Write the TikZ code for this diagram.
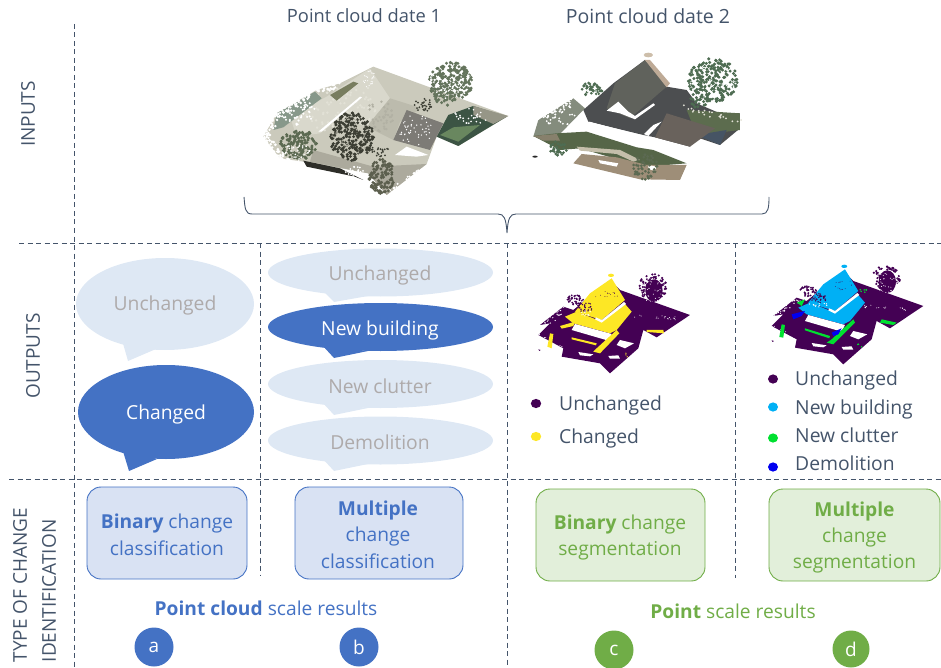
\documentclass[tikz,border=0pt]{standalone}
\usepackage{fontspec}
\setmainfont{Open Sans}
\definecolor{ink}{HTML}{44546A}
\definecolor{bl}{HTML}{4472C4}
\definecolor{bubl}{HTML}{DEE8F4}
\definecolor{boxb}{HTML}{D9E2F3}
\definecolor{gr}{HTML}{70AD47}
\definecolor{boxg}{HTML}{E2EFDA}
\definecolor{gtxt}{HTML}{AEAAAA}
\definecolor{purp}{HTML}{440154}
\definecolor{yel}{HTML}{FDE725}
\definecolor{cya}{HTML}{00B0F5}
\definecolor{grn}{HTML}{00E030}
\definecolor{blu}{HTML}{0000F0}
\definecolor{treeA}{RGB}{100,116,92}
\definecolor{treeB}{RGB}{60,62,52}
\definecolor{treeC}{RGB}{92,106,82}
\definecolor{treeD}{RGB}{92,95,78}
\definecolor{treeE}{RGB}{78,108,82}
\definecolor{paleA}{RGB}{226,225,214}
\definecolor{paleB}{RGB}{178,177,164}
\newcommand{\fsz}[1]{\fontsize{#1}{#1}\selectfont}
% random dots inside an ellipse: cx cy rx ry n colour size
\newcommand{\speck}[7]{%
  \foreach \ii in {1,...,#5}{%
    \pgfmathsetmacro\aa{rnd*360}%
    \pgfmathsetmacro\rr{sqrt(rnd)}%
    \fill[color={#6}] ({#1+#3*\rr*cos(\aa)},{#2+#4*\rr*sin(\aa)}) circle[radius=#7];
  }}
% random dots along a segment: x1 y1 x2 y2 n spread colour size
\newcommand{\fray}[8]{%
  \foreach \ii in {1,...,#5}{%
    \pgfmathsetmacro\tt{rnd}%
    \pgfmathsetmacro\dx{(rnd-0.5)*#6}%
    \pgfmathsetmacro\dy{(rnd-0.5)*#6}%
    \fill[color={#7}] ({#1+(#3-#1)*\tt+\dx},{#2+(#4-#2)*\tt+\dy}) circle[radius=#8];
  }}
% the change-map cloud; #1 is the colour of the changed parts
\newcommand{\segcloud}[1]{%
  \fill[purp] (330,120)--(540,195)--(440,262)--(400,240)--(385,295)--(300,370)--(270,340)--(155,320)--(160,295)--(85,255)--(120,220)--(90,225)--(160,170)--(190,180)--(300,90)--cycle;
  \speck{195}{150}{25}{16}{40}{purp}{3}
  \fill[purp] (432,122) ellipse[x radius=26,y radius=34];
  \speck{428}{112}{42}{40}{90}{purp}{3.6}
  \speck{428}{120}{38}{36}{34}{white}{1.6}
  \fray{92}{225}{165}{172}{34}{22}{white}{2}
  \fray{360}{195}{500}{205}{18}{10}{white}{1.5}
  \fray{85}{255}{160}{295}{10}{12}{white}{1.6}
  \fill[#1] (305,85)--(345,150)--(275,210)--(195,185)--(240,130)--cycle;
  \fill[#1] (165,200)--(200,185)--(275,215)--(345,162)--(365,185)--(320,240)--(300,250)--(190,220)--cycle;
  \fill[#1] (303,76) ellipse[x radius=9,y radius=5];
  \fray{270}{130}{320}{135}{14}{30}{purp}{1.2}
  \fill[white] (275,210)--(342,156)--(348,162)--(275,218)--(255,208)--(258,202)--cycle;
  \speck{225}{172}{24}{14}{30}{purp}{2.4}
  \speck{225}{190}{30}{8}{12}{white}{2}
  \fill[white] (195,222)--(305,252)--(295,272)--(185,240)--cycle;
  \fill[white] (330,270)--(372,280)--(345,295)--(320,285)--cycle;
  \fill[white] (205,306)--(250,313)--(240,319)--(210,316)--cycle;
  \fill[white] (295,318)--(325,316)--(330,326)--(300,326)--cycle;
  \fill[purp] (85,298)--(92,300)--(88,303)--cycle;
}
\tikzset{
  sep/.style={draw=ink,line width=0.9pt,dash pattern=on 5pt off 3.5pt},
  txt/.style={text=ink,font=\fsz{19.3},inner sep=0pt},
  head/.style={text=ink,font=\fsz{18.3},inner sep=0pt},
  side/.style={text=ink,font=\fsz{19},inner sep=0pt,rotate=90},
  bubt/.style={text=gtxt,font=\fsz{19.3},inner sep=0pt},
  bubw/.style={text=white,font=\fsz{19.3},inner sep=0pt},
  boxblue/.style={draw=bl,line width=0.9pt,fill=boxb,rounded corners=14pt},
  boxgreen/.style={draw=gr,line width=0.9pt,fill=boxg,rounded corners=14pt},
  tblue/.style={text=bl,font=\fsz{19.2},inner sep=0pt,align=center},
  tgreen/.style={text=gr,font=\fsz{19.2},inner sep=0pt,align=center},
  letter/.style={text=white,font=\fsz{19},inner sep=0pt,circle},
  zoomed/.style={x=0.3333pt,y=-0.3333pt},
}
\begin{document}
\begin{tikzpicture}[x=1pt,y=-1pt]
\useasboundingbox (0,0) rectangle (941,668);
\pgfmathsetseed{4711}

% ------- separators
\draw[sep] (74,24)--(74,668);
\draw[sep] (19,243)--(941,243);
\draw[sep] (9,479)--(941,479);
\draw[sep] (260,243)--(260,576);
\draw[sep] (507,243)--(507,668);
\draw[sep] (735,243)--(735,578);

% ------- brace
\draw[ink,line width=0.9pt] (244,197) .. controls (245,208) and (245,214) .. (252,214) -- (498,214)
   .. controls (504,214) and (506,218) .. (507,233)
   .. controls (508,218) and (510,214) .. (516,214) -- (762,214)
   .. controls (768,214) and (769,208) .. (769,197);

% ------- titles
\node[head] (t1) at (364,16) {Point cloud date 1};
\node[head,font=\fsz{19.5}] (t2) at (648,16) {Point cloud date 2};

% ------- side labels
\node[side] (sInputs) at (28,114) {INPUTS};
\node[side] (sOutputs) at (33,356) {OUTPUTS};
\node[side,align=left] (sType) at (34.5,585) {TYPE OF CHANGE\\[10pt]IDENTIFICATION};

% ------- point cloud 1
\begin{scope}[shift={(240,40)},zoomed]
  \fill[color={rgb,255:red,203;green,202;blue,188}] (400,80)--(805,228)--(655,318)--(590,290)--(560,372)--(440,465)--(385,400)--(190,365)--(120,355)--(70,290)--(110,220)--(230,150)--(300,130)--cycle;
  \fill[color={rgb,255:red,217;green,216;blue,204}] (390,85)--(450,175)--(380,260)--(300,235)--(240,280)--(170,290)--(150,230)--(260,170)--cycle;
  \fill[color={rgb,255:red,188;green,187;blue,173}] (450,175)--(545,205)--(480,245)--(460,300)--(380,260)--cycle;
  \speck{300}{210}{110}{70}{70}{paleA}{4}
  \speck{420}{230}{50}{45}{40}{paleB}{4}
  \fill[color={rgb,255:red,135;green,152;blue,138}] (110,220)--(225,155)--(245,175)--(130,262)--(100,270)--cycle;
  \speck{170}{215}{55}{40}{60}{white}{3.4}
  \fray{70}{290}{110}{220}{45}{26}{white}{4}
  \fray{110}{220}{230}{150}{50}{26}{white}{4}
  \fray{70}{290}{120}{355}{30}{30}{white}{4.5}
  \fray{230}{150}{300}{130}{22}{22}{white}{4}
  \fill[color={rgb,255:red,120;green,125;blue,95}] (270,165)--(340,125)--(355,130)--(290,182)--cycle;
  \fill[color={rgb,255:red,60;green,84;blue,68}] (590,290)--(625,225)--(700,198)--(800,230)--(655,318)--cycle;
  \fill[color={rgb,255:red,105;green,135;blue,95}] (600,285)--(640,262)--(720,255)--(655,305)--cycle;
  \fill[color={rgb,255:red,150;green,150;blue,135}] (700,198)--(805,228)--(760,252)--(700,225)--cycle;
  \speck{690}{230}{55}{25}{26}{white}{2.8}
  \fill[color={rgb,255:red,125;green,123;blue,118}] (500,210)--(610,250)--(570,330)--(460,300)--cycle;
  \speck{530}{270}{55}{45}{45}{white}{2.2}
  \fill[white] (500,320)--(565,345)--(530,350)--(465,345)--cycle;
  \fill[color={rgb,255:red,172;green,170;blue,157}] (220,330)--(400,380)--(560,372)--(440,465)--(385,400)--(210,365)--cycle;
  \fill[color={rgb,255:red,45;green,45;blue,40}] (190,362)--(300,385)--(370,420)--(345,410)--(200,380)--cycle;
  \speck{350}{395}{35}{15}{20}{white}{3}
  \fray{120}{355}{190}{368}{14}{16}{white}{4}
  \fray{560}{372}{440}{465}{24}{18}{white}{3.5}
  \speck{632}{125}{68}{58}{210}{treeA}{5}
  \speck{620}{165}{40}{32}{30}{treeA}{5}
  \speck{632}{125}{62}{52}{40}{white}{2.8}
  \speck{550}{195}{28}{20}{30}{treeB}{3}
  \speck{335}{290}{66}{72}{240}{treeB}{5}
  \speck{335}{290}{60}{65}{45}{paleB}{2.8}
  \speck{178}{315}{58}{44}{140}{treeC}{5}
  \speck{170}{335}{45}{22}{28}{white}{2.6}
  \speck{425}{410}{40}{52}{110}{treeD}{5}
  \speck{415}{335}{40}{15}{22}{treeB}{3}
  \speck{390}{120}{22}{28}{26}{white}{1.8}
  \fill[white] (235,275)--(360,170)--(366,172)--(245,275)--cycle;
\end{scope}

% ------- point cloud 2
\begin{scope}[shift={(520,50)},zoomed]
  \fill[color={rgb,255:red,132;green,140;blue,125}] (55,210)--(160,145)--(195,175)--(110,262)--(40,260)--cycle;
  \speck{115}{195}{50}{35}{45}{white}{3}
  \fray{55}{210}{160}{145}{30}{20}{white}{3.5}
  \fill[color={rgb,255:red,76;green,78;blue,80}] (375,30)--(440,110)--(500,120)--(530,160)--(600,190)--(660,190)--(660,235)--(600,285)--(530,262)--(510,290)--(405,262)--(370,255)--(205,215)--(190,180)--(280,100)--cycle;
  \fill[color={rgb,255:red,96;green,98;blue,92}] (375,30)--(440,110)--(330,205)--(260,175)--(285,100)--cycle;
  \fill[color={rgb,255:red,190;green,170;blue,150}] (375,30)--(390,30)--(450,100)--(440,112)--cycle;
  \fill[color={rgb,255:red,205;green,190;blue,170}] (385,15) ellipse[x radius=14,y radius=7];
  \fill[white] (260,182)--(295,155)--(325,185)--(345,198)--(400,160)--(405,165)--(345,208)--(300,190)--cycle;
  \speck{215}{118}{34}{20}{40}{treeE}{4.5}
  \speck{220}{130}{22}{10}{10}{white}{2}
  \fill[color={rgb,255:red,92;green,108;blue,78}] (500,180)--(660,190)--(660,240)--(620,245)--(530,255)--cycle;
  \fill[color={rgb,255:red,70;green,84;blue,100}] (530,255)--(620,240)--(600,285)--cycle;
  \speck{580}{90}{75}{65}{210}{treeE}{5}
  \speck{540}{150}{30}{25}{30}{treeE}{5}
  \speck{580}{100}{70}{55}{36}{white}{2.8}
  \fray{470}{170}{660}{210}{22}{20}{paleA}{3}
  \fill[color={rgb,255:red,105;green,98;blue,92}] (440,190)--(585,235)--(510,290)--(405,262)--cycle;
  \fill[white] (400,225)--(425,215)--(385,258)--(372,252)--cycle;
  \fill[white] (208,215)--(378,260)--(368,290)--(195,242)--cycle;
  \fill[color={rgb,255:red,86;green,102;blue,72}] (40,258)--(110,250)--(200,245)--(350,292)--(400,300)--(500,340)--(380,350)--(350,345)--(180,295)--(120,300)--cycle;
  \fill[color={rgb,255:red,135;green,128;blue,108}] (40,258)--(110,252)--(120,272)--(70,272)--cycle;
  \fill[color={rgb,255:red,196;green,190;blue,170}] (170,290)--(300,300)--(360,330)--(340,335)--(290,312)--(180,302)--cycle;
  \speck{115}{295}{26}{22}{32}{treeE}{4.5}
  \fill[color={rgb,255:red,158;green,142;blue,120}] (185,312)--(290,322)--(380,345)--(500,345)--(480,390)--(360,388)--(160,340)--cycle;
  \fill[white] (235,330)--(295,340)--(290,350)--(240,340)--cycle;
  \fill[white] (385,345)--(410,350)--(405,362)--(385,358)--cycle;
  \speck{375}{350}{38}{38}{50}{treeC}{4.5}
  \fill[color={rgb,255:red,40;green,40;blue,40}] (45,320) ellipse[x radius=8,y radius=3];
\end{scope}

% ------- change maps
\begin{scope}[shift={(510,250)},zoomed]
  \segcloud{yel}
  \fill[yel] (120,250)--(130,252)--(125,295)--(112,290)--cycle;
  \fill[yel] (150,228)--(195,215)--(190,228)--(155,236)--cycle;
  \fill[yel] (185,262)--(260,280)--(258,286)--(185,268)--cycle;
  \fill[yel] (260,295)--(320,240)--(328,250)--(270,310)--(250,305)--cycle;
  \fill[yel] (410,240)--(460,240)--(462,250)--(410,246)--cycle;
  \speck{350}{315}{10}{6}{3}{yel}{2}
\end{scope}
\begin{scope}[shift={(743.3,241)},zoomed]
  \segcloud{cya}
  \fill[grn] (185,262)--(260,285)--(258,292)--(185,268)--cycle;
  \fill[grn] (265,295)--(330,235)--(335,245)--(270,310)--(250,305)--cycle;
  \fill[grn] (160,185)--(185,175)--(175,195)--cycle;
  \fill[grn] (115,250)--(125,252)--(120,290)--(108,288)--cycle;
  \fill[grn] (415,235)--(460,245)--(450,252)--(410,245)--cycle;
  \speck{350}{315}{10}{6}{3}{grn}{2.5}
  \speck{360}{150}{12}{6}{6}{grn}{2.5}
  \fill[blu] (145,220)--(185,210)--(175,225)--(150,235)--cycle;
  \fill[blu] (265,275)--(295,262)--(285,280)--(270,285)--cycle;
\end{scope}

% ------- speech bubbles a
\fill[bubl] (165,304) ellipse[x radius=89,y radius=46];
\fill[bubl] (122,340)--(128,361)--(156,349)--cycle;
\node[bubt] (ba1) at (165,305) {Unchanged};
\fill[bl] (166,412) ellipse[x radius=88,y radius=47];
\fill[bl] (122,448)--(129,471)--(157,459)--cycle;
\node[bubw] (ba2) at (166,414) {Changed};

% ------- speech bubbles b
\fill[bubl] (380.5,272.5) ellipse[x radius=112.5,y radius=24];
\fill[bubl] (322,290)--(334,302)--(368,296)--cycle;
\node[bubt] (bb1) at (380,275) {Unchanged};
\fill[bl] (380.5,327) ellipse[x radius=112.5,y radius=24];
\fill[bl] (322,345)--(334,358)--(368,351)--cycle;
\node[bubw] (bb2) at (380,330) {New building};
\fill[bubl] (380.5,384) ellipse[x radius=112.5,y radius=24];
\fill[bubl] (322,402)--(334,415)--(368,408)--cycle;
\node[bubt] (bb3) at (380,386.5) {New clutter};
\fill[bubl] (380.5,440.5) ellipse[x radius=112.5,y radius=24];
\fill[bubl] (322,458)--(334,471)--(368,464)--cycle;
\node[bubt] (bb4) at (380,442.5) {Demolition};

% ------- legends
\fill[purp] (536,403.5) ellipse[x radius=5.2,y radius=4.6];
\node[txt,anchor=west] (lc1) at (559,405) {Unchanged};
\fill[yel] (536,436.5) ellipse[x radius=5.2,y radius=4.6];
\node[txt,anchor=west] (lc2) at (559,438) {Changed};
\fill[purp] (773,379) ellipse[x radius=5,y radius=4.6];
\node[txt,anchor=west] (ld1) at (795,380) {Unchanged};
\fill[cya] (773,407) ellipse[x radius=5,y radius=4.6];
\node[txt,anchor=west] (ld2) at (795,409) {New building};
\fill[grn] (773,438) ellipse[x radius=5,y radius=4.6];
\node[txt,anchor=west] (ld3) at (795,435) {New clutter};
\fill[blu] (773,467) ellipse[x radius=5,y radius=4.6];
\node[txt,anchor=west] (ld4) at (795,463) {Demolition};

% ------- type boxes
\draw[boxblue] (87,487) rectangle (247,579);
\node[tblue] (ta) at (167,535) {\textbf{Binary} change\\[7pt]classification};
\draw[boxblue] (295,487) rectangle (463,579);
\node[tblue] (tb) at (378,535) {\textbf{Multiple}\\[7pt]change\\[7pt]classification};
\draw[boxgreen] (536,489) rectangle (705,581);
\node[tgreen] (tc) at (620,537.5) {\textbf{Binary} change\\[7pt]segmentation};
\draw[boxgreen] (769,489) rectangle (940,581);
\node[tgreen] (td) at (854.5,537.5) {\textbf{Multiple}\\[7pt]change\\[7pt]segmentation};

% ------- scale labels
\node[tblue] (pa) at (266,608) {\textbf{Point cloud} scale results};
\node[tgreen] (pb) at (733,611) {\textbf{Point} scale results};

% ------- letters
\node[fill=bl,minimum size=39pt,letter] (ca) at (154,647) {\raisebox{-1.5pt}{a}};
\node[fill=bl,minimum size=39pt,letter] (cb) at (359,647) {\raisebox{-1pt}{b}};
\node[fill=gr,minimum size=39pt,letter] (cc) at (614,650) {\raisebox{-1.5pt}{c}};
\node[fill=gr,minimum size=37pt,letter] (cd) at (851,649) {\raisebox{-1pt}{d}};
\end{tikzpicture}
\end{document}
